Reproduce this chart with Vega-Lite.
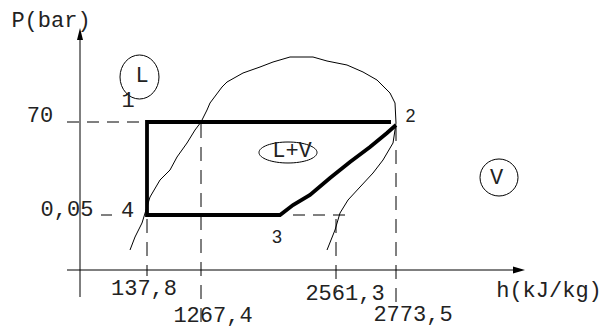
{
  "$schema": "https://vega.github.io/schema/vega-lite/v6.json",
  "width": 602,
  "height": 328,
  "padding": 0,
  "autosize": {"type": "none"},
  "background": "white",
  "config": {"view": {"stroke": null}},
  "datasets": {
    "dashH": [
      {"h": -13, "h2": 67, "p": 148},
      {"h": 21, "h2": 32, "p": 55},
      {"h": 213, "h2": 270, "p": 55}
    ],
    "dashV": [
      {"h": 67, "p": 51, "p2": -6},
      {"h": 121, "p": 146, "p2": -58},
      {"h": 256, "p": 51, "p2": -21},
      {"h": 316, "p": 143, "p2": -35}
    ],
    "axes": [
      {"h": 0, "h2": 0, "p": -27, "p2": 238},
      {"h": -13, "h2": 441, "p": 0, "p2": 0}
    ],
    "dome": [
      {"i": 1, "h": 50, "p": 20}, {"i": 2, "h": 55, "p": 33}, {"i": 3, "h": 62, "p": 47},
      {"i": 4, "h": 66, "p": 60}, {"i": 5, "h": 70, "p": 73}, {"i": 6, "h": 80, "p": 90},
      {"i": 7, "h": 90, "p": 100}, {"i": 8, "h": 97, "p": 113}, {"i": 9, "h": 107, "p": 127},
      {"i": 10, "h": 115, "p": 140}, {"i": 11, "h": 121, "p": 148}, {"i": 12, "h": 127, "p": 160},
      {"i": 13, "h": 130, "p": 167}, {"i": 14, "h": 142, "p": 183}, {"i": 15, "h": 147, "p": 188},
      {"i": 16, "h": 163, "p": 197}, {"i": 17, "h": 180, "p": 203}, {"i": 18, "h": 193, "p": 208},
      {"i": 19, "h": 210, "p": 213}, {"i": 20, "h": 233, "p": 213}, {"i": 21, "h": 247, "p": 209},
      {"i": 22, "h": 267, "p": 205}, {"i": 23, "h": 283, "p": 198}, {"i": 24, "h": 297, "p": 190},
      {"i": 25, "h": 310, "p": 177}, {"i": 26, "h": 315, "p": 167}, {"i": 27, "h": 316, "p": 147},
      {"i": 28, "h": 315, "p": 140}, {"i": 29, "h": 313, "p": 127}, {"i": 30, "h": 303, "p": 110},
      {"i": 31, "h": 293, "p": 97}, {"i": 32, "h": 280, "p": 83}, {"i": 33, "h": 268, "p": 70},
      {"i": 34, "h": 260, "p": 57}, {"i": 35, "h": 255, "p": 40}, {"i": 36, "h": 247, "p": 20}
    ],
    "cycle": [
      {"i": 1, "h": 316, "p": 145}, {"i": 2, "h": 307, "p": 137}, {"i": 3, "h": 290, "p": 123},
      {"i": 4, "h": 270, "p": 108}, {"i": 5, "h": 250, "p": 92}, {"i": 6, "h": 230, "p": 75},
      {"i": 7, "h": 213, "p": 65}, {"i": 8, "h": 200, "p": 55}, {"i": 9, "h": 67, "p": 55},
      {"i": 10, "h": 67, "p": 148}, {"i": 11, "h": 311, "p": 148}
    ],
    "monoText": [
      {"t": "P(bar)", "h": -29, "p": 243},
      {"t": "70", "h": -40, "p": 148},
      {"t": "0,05", "h": -13, "p": 54},
      {"t": "4", "h": 47.5, "p": 53},
      {"t": "1", "h": 48, "p": 163},
      {"t": "137,8", "h": 64, "p": -25},
      {"t": "1267,4", "h": 133, "p": -52},
      {"t": "2561,3", "h": 265, "p": -30},
      {"t": "2773,5", "h": 333, "p": -51},
      {"t": "h(kJ/kg)", "h": 469, "p": -27},
      {"t": "L", "h": 62, "p": 188},
      {"t": "L+V", "h": 212, "p": 113},
      {"t": "V", "h": 416.5, "p": 86}
    ],
    "sansText": [
      {"t": "2", "h": 330.5, "p": 148},
      {"t": "3", "h": 197, "p": 27}
    ]
  },
  "encoding": {
    "x": {"field": "h", "type": "quantitative", "scale": {"domain": [-80, 522], "nice": false, "zero": false}, "axis": null},
    "y": {"field": "p", "type": "quantitative", "scale": {"domain": [-58, 270], "nice": false, "zero": false}, "axis": null}
  },
  "layer": [
    {
      "data": {"name": "dashH"},
      "mark": {"type": "rule", "color": "black", "strokeWidth": 1, "strokeDash": [12, 8]},
      "encoding": {"x2": {"field": "h2"}}
    },
    {
      "data": {"name": "dashV"},
      "mark": {"type": "rule", "color": "black", "strokeWidth": 1, "strokeDash": [14, 9]},
      "encoding": {"y2": {"field": "p2"}}
    },
    {
      "data": {"name": "axes"},
      "mark": {"type": "rule", "color": "black", "strokeWidth": 1},
      "encoding": {"x2": {"field": "h2"}, "y2": {"field": "p2"}}
    },
    {
      "data": {"name": "dome"},
      "mark": {"type": "line", "color": "black", "strokeWidth": 1},
      "encoding": {"order": {"field": "i", "type": "quantitative"}}
    },
    {
      "data": {"name": "cycle"},
      "mark": {"type": "line", "color": "black", "strokeWidth": 3.8, "strokeJoin": "miter", "strokeCap": "butt"},
      "encoding": {"order": {"field": "i", "type": "quantitative"}}
    },
    {
      "data": {"values": [{"h": 0, "p": 236}]},
      "mark": {"type": "point", "shape": "M 0 -1 L 0.5 1 L -0.5 1 Z", "size": 144, "filled": true, "color": "black", "opacity": 1}
    },
    {
      "data": {"values": [{"h": 439, "p": 0}]},
      "mark": {"type": "point", "shape": "M 1 0 L -1 0.6 L -1 -0.6 Z", "size": 144, "filled": true, "color": "black", "opacity": 1}
    },
    {
      "data": {"values": [{"h": 59.5, "p": 193}]},
      "mark": {"type": "point", "shape": "M 0.886 0 C 0.886 0.552 0.489 1 0 1 C -0.489 1 -0.886 0.552 -0.886 0 C -0.886 -0.552 -0.489 -1 0 -1 C 0.489 -1 0.886 -0.552 0.886 0 Z", "size": 1936, "filled": false, "color": "black", "strokeWidth": 1, "opacity": 1}
    },
    {
      "data": {"values": [{"h": 208, "p": 117.5}]},
      "mark": {"type": "point", "shape": "M 1 0 C 1 0.2 0.552 0.362 0 0.362 C -0.552 0.362 -1 0.2 -1 0 C -1 -0.2 -0.552 -0.362 0 -0.362 C 0.552 -0.362 1 -0.2 1 0 Z", "size": 3364, "filled": false, "color": "black", "strokeWidth": 1, "opacity": 1}
    },
    {
      "data": {"values": [{"h": 419, "p": 92.5}]},
      "mark": {"type": "point", "shape": "M 1 0 C 1 0.538 0.552 0.974 0 0.974 C -0.552 0.974 -1 0.538 -1 0 C -1 -0.538 -0.552 -0.974 0 -0.974 C 0.552 -0.974 1 -0.538 1 0 Z", "size": 1444, "filled": false, "color": "black", "strokeWidth": 1, "opacity": 1}
    },
    {
      "data": {"name": "monoText"},
      "mark": {"type": "text", "font": "Liberation Mono", "fontSize": 22, "align": "center", "baseline": "alphabetic", "color": "#222"},
      "encoding": {"text": {"field": "t", "type": "nominal"}}
    },
    {
      "data": {"name": "sansText"},
      "mark": {"type": "text", "font": "Liberation Sans", "fontSize": 18, "align": "center", "baseline": "alphabetic", "color": "#222"},
      "encoding": {"text": {"field": "t", "type": "nominal"}}
    }
  ]
}
